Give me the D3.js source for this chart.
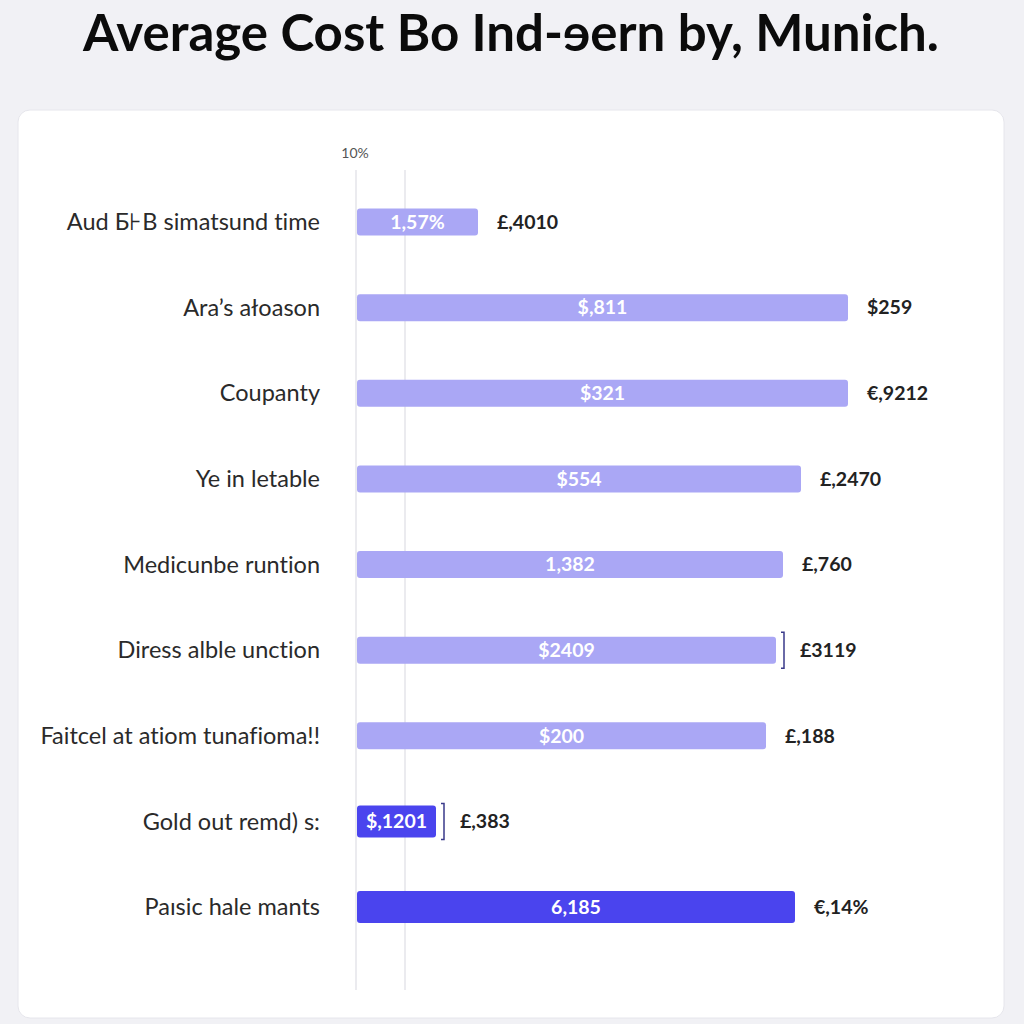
<!DOCTYPE html>
<html>
<head>
<meta charset="utf-8">
<script src="https://cdn.jsdelivr.net/npm/d3@7"></script>
<style>
  html, body { margin: 0; padding: 0; background: #f1f1f5; }
  svg { display: block; }
  text { font-variant-ligatures: none; }
</style>
</head>
<body>
<svg id="chart" width="1024" height="1024"></svg>
<script>
// ---- data ----
const categories = [
  "Aud Б⊦B simatsund time",
  "Ara’s ałoason",
  "Coupanty",
  "Ye in letable",
  "Medicunbe runtion",
  "Diress alble unction",
  "Faitcel at atiom tunafioma!!",
  "Gold out remd) s:",
  "Paısic hale mants"
];
const values = [12.1, 49.1, 49.1, 44.4, 42.6, 41.9, 40.9, 7.9, 43.8];
const innerLabels = ["1,57%", "$,811", "$321", "$554", "1,382", "$2409", "$200", "$,1201", "6,185"];
const outerLabels = ["£,4010", "$259", "€,9212", "£,2470", "£,760", "£3119", "£,188", "£,383", "€,14%"];
const highlighted = [false, false, false, false, false, false, false, true, true];
const bracketed = [false, false, false, false, false, true, false, true, false];
const gridTicks = [0, 4.9];
const tickLabels = ["10%", ""];
const title = "Average Cost Bo Ind-ɘern by, Munich.";

// ---- layout ----
const svg = d3.select("#chart");
const W = 1024, H = 1024;
const x0 = 357;
const x = d3.scaleLinear().domain([0, 60]).range([x0, x0 + 600]);
const y = d3.scalePoint().domain(categories).range([222, 907]);
const barH = i => highlighted[i] ? 32 : 27;

svg.append("rect").attr("width", W).attr("height", H).attr("fill", "#f1f1f5");

// title
svg.append("text")
  .attr("x", 511).attr("y", 51)
  .attr("text-anchor", "middle")
  .attr("font-family", "Lato, 'Noto Sans', sans-serif")
  .attr("font-weight", 700)
  .attr("font-size", 51)
  .attr("fill", "#0b0b0b")
  .text(title);

// card
svg.append("rect")
  .attr("x", 18).attr("y", 110).attr("width", 986).attr("height", 908)
  .attr("rx", 12)
  .attr("fill", "#ffffff")
  .attr("stroke", "#e6e6ec").attr("stroke-width", 1);

// gridlines
svg.append("g").selectAll("line").data(gridTicks).join("line")
  .attr("x1", d => x(d) - 1).attr("x2", d => x(d) - 1)
  .attr("y1", 170).attr("y2", 990)
  .attr("stroke", "#e4e4ea").attr("stroke-width", 1.5);

svg.append("g").selectAll("text").data(gridTicks).join("text")
  .attr("x", d => x(d) - 2).attr("y", 158)
  .attr("text-anchor", "middle")
  .attr("font-family", "Lato, sans-serif")
  .attr("font-size", 14)
  .attr("fill", "#555")
  .text((d, i) => tickLabels[i]);

// category labels
svg.append("g").selectAll("text").data(categories).join("text")
  .attr("x", 320).attr("y", d => y(d))
  .attr("dy", "0.35em")
  .attr("text-anchor", "end")
  .attr("font-family", "Lato, sans-serif")
  .attr("font-size", 23.5)
  .attr("fill", "#2a2a2a")
  .text(d => d);

// bars
const rows = categories.map((c, i) => ({ c, i, v: values[i] }));
svg.append("g").selectAll("rect").data(rows).join("rect")
  .attr("x", x(0))
  .attr("y", d => y(d.c) - barH(d.i) / 2)
  .attr("width", d => x(d.v) - x(0))
  .attr("height", d => barH(d.i))
  .attr("rx", 3)
  .attr("fill", d => highlighted[d.i] ? "#4a44ee" : "#aaa7f5");

// inner labels
svg.append("g").selectAll("text").data(rows).join("text")
  .attr("x", d => (x(0) + x(d.v)) / 2)
  .attr("y", d => y(d.c))
  .attr("dy", "0.35em")
  .attr("text-anchor", "middle")
  .attr("font-family", "Lato, sans-serif")
  .attr("font-weight", 700)
  .attr("font-size", 19.5)
  .attr("fill", "#ffffff")
  .text(d => innerLabels[d.i]);

// brackets
svg.append("g").selectAll("path").data(rows.filter(d => bracketed[d.i])).join("path")
  .attr("d", d => {
    const bx = x(d.v) + 8, top = y(d.c) - 18, bot = y(d.c) + 18;
    return `M${bx - 3},${top} L${bx},${top} L${bx},${bot} L${bx - 3},${bot}`;
  })
  .attr("fill", "none")
  .attr("stroke", "#3a3a8a").attr("stroke-width", 1.5);

// outer labels
svg.append("g").selectAll("text").data(rows).join("text")
  .attr("x", d => x(d.v) + (bracketed[d.i] ? 24 : 19))
  .attr("y", d => y(d.c))
  .attr("dy", "0.35em")
  .attr("text-anchor", "start")
  .attr("font-family", "Lato, sans-serif")
  .attr("font-weight", 700)
  .attr("font-size", 19.5)
  .attr("fill", "#222")
  .text(d => outerLabels[d.i]);
</script>
</body>
</html>
